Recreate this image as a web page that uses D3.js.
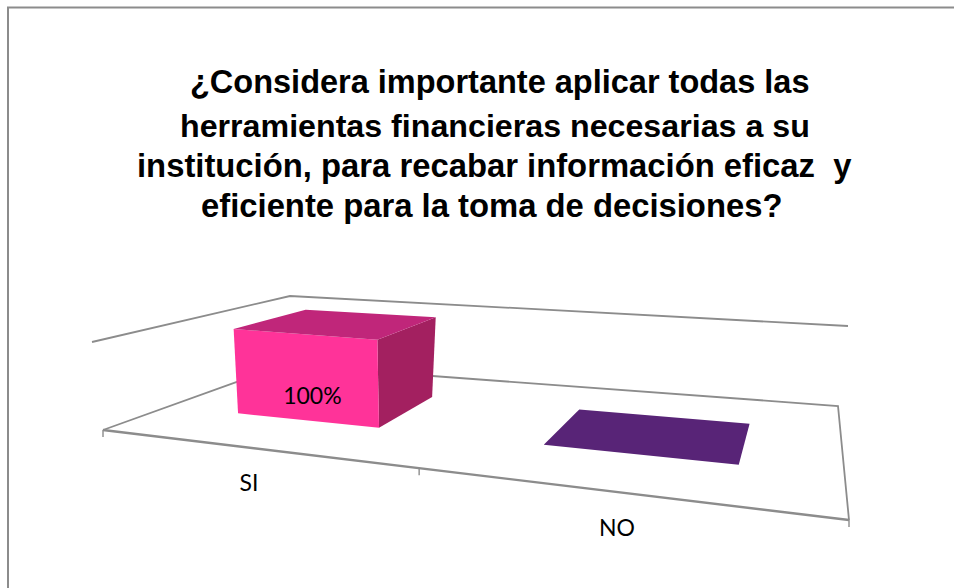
<!DOCTYPE html>
<html><head><meta charset="utf-8">
<script src="https://cdn.jsdelivr.net/npm/d3@7"></script>
<style>html,body{margin:0;padding:0;background:#fff}svg{display:block}</style>
</head><body><svg id="c" width="954" height="588"></svg>
<script>
const titleLines = ["¿Considera importante aplicar todas las","herramientas financieras necesarias a su","institución, para recabar información eficaz  y","eficiente para la toma de decisiones?"];
const categories = ["SI","NO"];
const values = [100,0];
const labels = ["100%",""];
const series = ["Serie1"];
const frontColors = ["#FF3399","#582477"];
const topColors = ["#C0267A","#582477"];
const sideColors = ["#A32060","#582477"];

const svg = d3.select("#c");
const GREY = "#8c8c8c";

const FL=[103,430],FR=[849,520],BR=[838,406],BL=[284,365];
const dx1=FR[0]-BR[0],dx2=BL[0]-BR[0],sx=FL[0]-FR[0]+BR[0]-BL[0];
const dy1=FR[1]-BR[1],dy2=BL[1]-BR[1],sy=FL[1]-FR[1]+BR[1]-BL[1];
const det=dx1*dy2-dx2*dy1;
const g=(sx*dy2-dx2*sy)/det,h=(dx1*sy-sx*dy1)/det;
const A=FR[0]-FL[0]+g*FR[0],B=BL[0]-FL[0]+h*BL[0];
const D=FR[1]-FL[1]+g*FR[1],E=BL[1]-FL[1]+h*BL[1];
const lift={fl:[-11,-88],fr:[3,-105],br:[10,-80],bl:[6,-69]};

const u=d3.scaleBand().domain(categories).range([0.012,1.006]).paddingInner(0.5).paddingOuter(0.25);
const v=d3.scaleBand().domain(series).range([0,1]).paddingInner(0).paddingOuter(0.75);
const w=d3.scaleLinear().domain([0,100]).range([0,1]);

function P(a,b,c){
  const q=1+g*a+h*b;
  const x=(A*a+B*b+FL[0])/q, y=(D*a+E*b+FL[1])/q;
  const mix=i=>lift.fl[i]*(1-a)*(1-b)+lift.fr[i]*a*(1-b)+lift.bl[i]*(1-a)*b+lift.br[i]*a*b;
  return [x+mix(0)*c,y+mix(1)*c];
}
const line=d3.line();

svg.append("path").attr("d",line([[8,588],[8,7.5],[954,7.5]])).attr("fill","none").attr("stroke",GREY).attr("stroke-width",2);

const tx=[190,180,137,201], ty=[93,137,177,217], ts=[32.5,32.2,32.8,32.8];
svg.append("g").selectAll("text").data(titleLines).join("text")
 .attr("x",(d,i)=>tx[i]).attr("y",(d,i)=>ty[i]).attr("xml:space","preserve").style("white-space","pre")
 .attr("font-family","'Liberation Sans',Arial,sans-serif").attr("font-weight","bold").attr("font-size",(d,i)=>ts[i])
 .attr("fill","#000").text(d=>d);

const gl=svg.append("g").attr("fill","none").attr("stroke",GREY);
gl.append("path").attr("stroke-width",1.8).attr("d",line([P(0,0,1),P(0,1,1),P(1,1,1)]));
gl.append("path").attr("stroke-width",1.8).attr("d",line([P(0,0,0),P(0,1,0),P(1,1,0),P(1,0,0)]));
gl.append("path").attr("stroke-width",2.4).attr("d",line([P(0,0,0),P(1,0,0)]));
[0,0.515,1].forEach(t=>{const p=P(t,0,0);gl.append("path").attr("stroke-width",1.4).attr("d",line([p,[p[0],p[1]+7]]));});

categories.forEach((c,i)=>{
  const a0=u(c),a1=a0+u.bandwidth(),b0=v(series[0]),b1=b0+v.bandwidth(),t=w(values[i]);
  const bar=svg.append("g");
  const face=(pts,col)=>bar.append("path").attr("d",line(pts)+"Z").attr("fill",col);
  if(t>0){
    face([P(a1,b0,0),P(a1,b1,0),P(a1,b1,t),P(a1,b0,t)],sideColors[i]);
    face([P(a0,b0,0),P(a1,b0,0),P(a1,b0,t),P(a0,b0,t)],frontColors[i]);
  }
  face([P(a0,b0,t),P(a1,b0,t),P(a1,b1,t),P(a0,b1,t)],t>0?topColors[i]:frontColors[i]);
  if(labels[i]){
    const m=P(a0+(a1-a0)*0.55,b0,t*0.2);
    bar.append("text").attr("x",m[0]).attr("y",m[1]).attr("text-anchor","middle")
      .attr("font-family","Lato,sans-serif").attr("font-size",23).attr("fill","#000").text(labels[i]);
  }
});

const catX=[249,617],catY=[491,536];
svg.append("g").selectAll("text").data(categories).join("text")
  .attr("x",(d,i)=>catX[i]).attr("y",(d,i)=>catY[i]).attr("text-anchor","middle")
  .attr("font-family","Lato,sans-serif").attr("font-size",23).attr("fill","#000").text(d=>d);
</script></body></html>
